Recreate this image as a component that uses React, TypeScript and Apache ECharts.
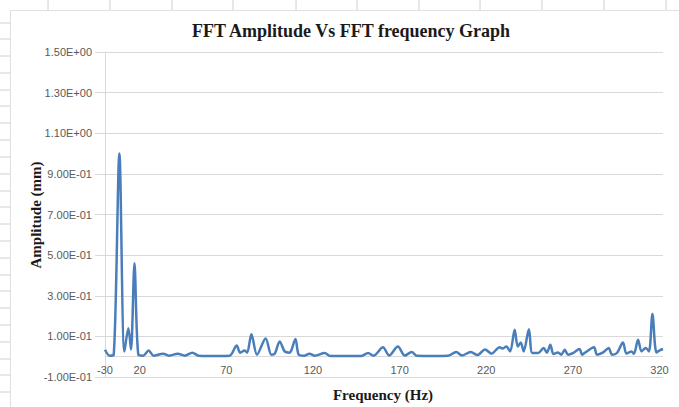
import React, { useEffect, useRef } from "react";
import * as echarts from "echarts";

const freq = [
  0, 2.7, 5, 8.3, 11.2, 13.5, 15, 17, 19.3, 22, 25.2, 28, 33.5, 37, 42, 46, 50.4, 54, 60, 66, 72,
  76, 78, 80.6, 82, 84.5, 87.7, 92.7, 96, 98, 100.8, 103.7, 106.6, 107.5, 109.9, 111.8, 115, 118,
  121, 126.8, 130, 140, 148, 151.8, 155, 160.4, 164, 169, 173, 177, 180, 190, 198, 202.7, 206, 211,
  215, 219.3, 223, 227.7, 229.3, 231.6, 233.8, 236.4, 238.2, 239.9, 241.6, 244.6, 246.6, 250, 253.1,
  255, 257, 258.8, 261.4, 263.3, 265.3, 267.2, 270, 273.8, 275.3, 276.7, 282.2, 283.9, 287.5, 290.6,
  292.6, 295.4, 298.9, 300.9, 303.7, 305.2, 307.6, 309.6, 312, 313.9, 315.9, 318.2, 320.1, 322,
];
const amplitude = [
  0.034, 0.005, 0.008, 1.0, 0.025, 0.14, 0.035, 0.46, 0.008, 0.005, 0.03, 0.005, 0.015, 0.005, 0.015,
  0.005, 0.02, 0.005, 0.004, 0.004, 0.005, 0.055, 0.02, 0.03, 0.02, 0.11, 0.01, 0.09, 0.01, 0.015,
  0.075, 0.026, 0.02, 0.03, 0.087, 0.01, 0.005, 0.015, 0.005, 0.018, 0.004, 0.004, 0.004, 0.018,
  0.005, 0.046, 0.006, 0.05, 0.006, 0.023, 0.005, 0.004, 0.005, 0.023, 0.006, 0.023, 0.008, 0.036,
  0.015, 0.046, 0.04, 0.05, 0.026, 0.133, 0.05, 0.07, 0.026, 0.135, 0.018, 0.018, 0.043, 0.02, 0.059,
  0.013, 0.021, 0.01, 0.034, 0.01, 0.018, 0.038, 0.01, 0.018, 0.046, 0.01, 0.021, 0.043, 0.01, 0.018,
  0.07, 0.015, 0.026, 0.015, 0.084, 0.026, 0.043, 0.026, 0.21, 0.021, 0.031, 0.038,
];
const xTickValues = [0, 20, 70, 120, 170, 220, 270, 320];
const xTickLabels = ["-30", "20", "70", "120", "170", "220", "270", "320"];
const xAxisTitle = "Frequency (Hz)";
const yAxisTitle = "Amplitude (mm)";

function sci(v: number): string {
  if (Math.abs(v) < 1e-12) return "0.00E+00";
  let e = Math.floor(Math.log10(Math.abs(v)) + 1e-9);
  let m = v / Math.pow(10, e);
  if (Math.abs(Number(m.toFixed(2))) >= 10) {
    e += 1;
    m = v / Math.pow(10, e);
  }
  return m.toFixed(2) + "E" + (e < 0 ? "-" : "+") + String(Math.abs(e)).padStart(2, "0");
}

export default function App() {
  const ref = useRef<HTMLDivElement>(null);
  useEffect(() => {
    document.body.style.margin = "0";
    const chart = echarts.init(ref.current!, undefined, { renderer: "svg" });
    const sheetCols = [48, 110, 172, 233, 296, 357, 419, 480, 542, 604, 666];
    const sheetRows: number[] = [];
    for (let y = 22.5; y < 407; y += 16.8) sheetRows.push(Math.round(y));
    const nameStyle = {
      fontFamily: "Liberation Serif",
      fontWeight: "bold",
      fontSize: 15,
      fill: "#1a1a1a",
      align: "center",
      verticalAlign: "middle",
    };
    const graphics: any[] = [
      ...sheetCols.map((x) => ({
        type: "line",
        shape: { x1: x, y1: 0, x2: x, y2: 10 },
        style: { stroke: "#d0d0d0", lineWidth: 1 },
        silent: true,
      })),
      ...sheetRows.map((y) => ({
        type: "line",
        shape: { x1: 0, y1: y, x2: 10, y2: y },
        style: { stroke: "#d0d0d0", lineWidth: 1 },
        silent: true,
      })),
      {
        type: "polyline",
        shape: { points: [[10.5, 407], [10.5, 10.5], [679, 10.5]] },
        style: { stroke: "#e0e0e0", lineWidth: 1, fill: "none" },
        silent: true,
      },
      {
        type: "text",
        x: 383,
        y: 395,
        style: { ...nameStyle, text: xAxisTitle },
        silent: true,
      },
      {
        type: "text",
        x: 36,
        y: 215,
        rotation: Math.PI / 2,
        style: { ...nameStyle, text: yAxisTitle },
        silent: true,
      },
    ];
    chart.setOption({
      animation: false,
      backgroundColor: "#ffffff",
      title: {
        text: "FFT Amplitude Vs FFT frequency Graph",
        left: 346,
        top: 17,
        textAlign: "center",
        textStyle: {
          fontFamily: "Liberation Serif",
          fontWeight: "bold",
          fontSize: 18,
          color: "#1a1a1a",
        },
      },
      graphic: graphics,
      grid: { left: 105, right: 16, top: 52, bottom: 30, outerBoundsMode: "none", containLabel: false },
      xAxis: {
        type: "value",
        min: 0,
        max: 322,
        axisLine: { show: true, onZero: true, lineStyle: { color: "#d9d9d9", width: 1 } },
        axisTick: { show: false },
        splitLine: { show: false },
        axisLabel: {
          customValues: xTickValues,
          formatter: (v: number) => {
            const i = xTickValues.indexOf(Math.round(v));
            return i >= 0 ? xTickLabels[i] : "";
          },
          fontFamily: "Liberation Sans",
          fontSize: 11,
          color: "#595959",
          margin: -13,
        },
      },
      yAxis: {
        type: "value",
        min: -0.1,
        max: 1.5,
        interval: 0.2,
        axisLine: { show: true, lineStyle: { color: "#d9d9d9", width: 1 } },
        axisTick: { show: true, length: 10, lineStyle: { color: "#d9d9d9" } },
        splitLine: { show: true, lineStyle: { color: "#d9d9d9", width: 1 } },
        axisLabel: {
          formatter: (v: number) => sci(v),
          fontFamily: "Liberation Sans",
          fontSize: 11,
          color: "#595959",
          margin: 13,
        },
      },
      series: [
        {
          type: "line",
          data: freq.map((f, i) => [f, amplitude[i]]),
          showSymbol: false,
          smooth: 0.3,
          lineStyle: { color: "#4a7ebb", width: 2.5 },
          itemStyle: { color: "#4a7ebb" },
        },
      ],
    });
    return () => chart.dispose();
  }, []);
  return <div ref={ref} style={{ width: 679, height: 407 }} />;
}
